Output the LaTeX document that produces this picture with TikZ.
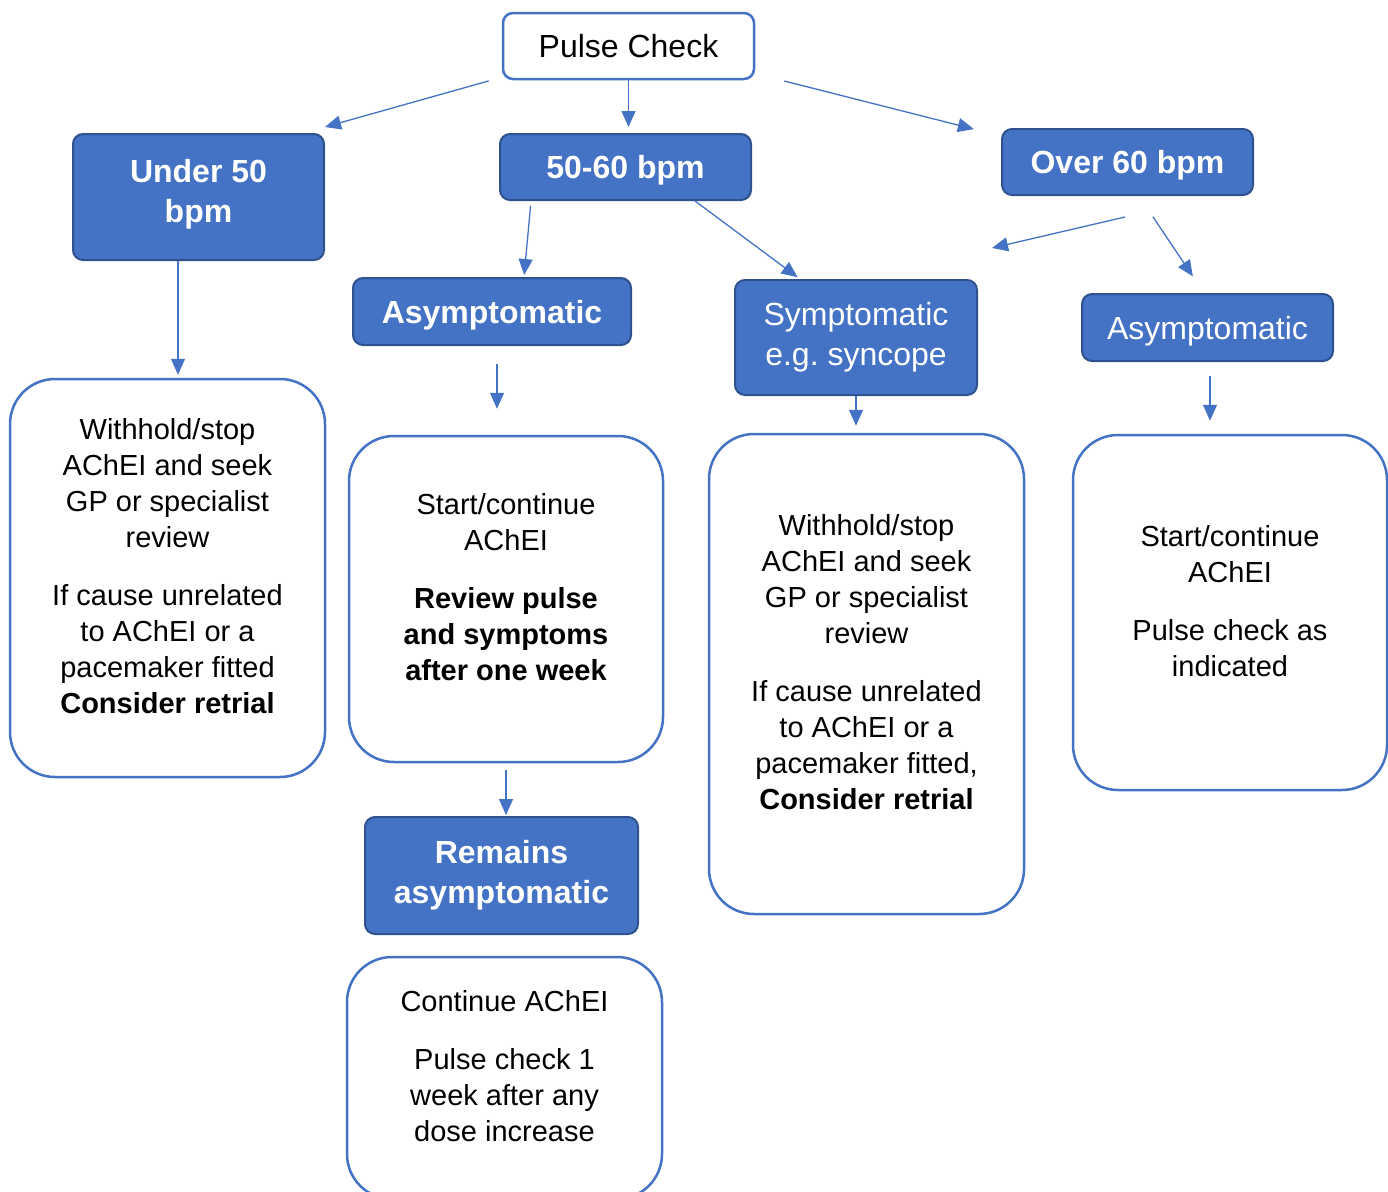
\documentclass[tikz,border=0pt]{standalone}
\usepackage{fontspec}
\setmainfont{Liberation Sans}
\frenchspacing
\usetikzlibrary{positioning,arrows.meta}
\definecolor{accblue}{HTML}{4472C4}
\definecolor{accdark}{HTML}{2F528F}
\newcommand{\lowpad}[1][-12pt]{\\[#1]\mbox{}}

\begin{document}
\begin{tikzpicture}[x=1pt,y=-1pt,>={Triangle[length=16pt,width=14pt]},line join=bevel,
  topbox/.style={draw=accblue,line width=2.5pt,fill=white,rounded corners=10pt,align=center,font=\fontsize{32}{40}\selectfont},
  hdrbox/.style={draw=accdark,line width=2pt,fill=accblue,text=white,rounded corners=10pt,align=center,font=\fontsize{32}{40}\selectfont},
  notebox/.style={draw=accblue,line width=2.5pt,fill=white,rounded corners=45pt,align=center,font=\fontsize{29}{36}\selectfont},
  flow/.style={draw=accblue,line width=1.3pt,->},]
%%
\useasboundingbox (0,0) rectangle (1388,1191);
\node (pulse) at (628.5,46) [topbox,minimum width=251,minimum height=66] {Pulse Check};
  \node (under50) at (198.5,197) [hdrbox,minimum width=251,minimum height=126] {\textbf{Under 50}\\\textbf{bpm}\lowpad[-27pt]};
  \node (b5060) at (625.5,167) [hdrbox,minimum width=251,minimum height=66,text depth=0pt] {\textbf{50-60 bpm}};
  \node (over60) at (1127.5,162) [hdrbox,minimum width=251,minimum height=66,text depth=0pt] {\textbf{Over 60 bpm}};
  \node (lnote) at (167.5,578) [notebox,minimum width=315,minimum height=398] {Withhold/stop\\AChEI and seek\\GP or specialist\\review\\[22pt]If cause unrelated\\to AChEI or a\\pacemaker fitted\\\textbf{Consider retrial}\lowpad};
  \node (asym1) at (492,311.5) [hdrbox,minimum width=278,minimum height=67,text depth=0pt] {\textbf{Asymptomatic}};
  \node (midnote) at (506,599) [notebox,minimum width=314,minimum height=326] {Start/continue\\AChEI\\[22pt]\textbf{Review pulse}\\\textbf{and symptoms}\\\textbf{after one week}\lowpad};
  \node (remains) at (501.5,875.5) [hdrbox,minimum width=273,minimum height=117] {\textbf{Remains}\\\textbf{asymptomatic}};
  \node (endnote) at (504.5,1078) [notebox,minimum width=315,minimum height=242] {Continue AChEI\\[22pt]Pulse check 1\\week after any\\dose increase\lowpad};
  \node (symp) at (856,337.5) [hdrbox,minimum width=242,minimum height=115] {Symptomatic\\e.g. syncope};
  \node (snote) at (866.5,674) [notebox,minimum width=315,minimum height=480] {Withhold/stop\\AChEI and seek\\GP or specialist\\review\\[22pt]If cause unrelated\\to AChEI or a\\pacemaker fitted,\\\textbf{Consider retrial}\lowpad};
  \node (asym2) at (1207.5,327.5) [hdrbox,minimum width=251,minimum height=67,text depth=0pt] {Asymptomatic};
  \node (rnote) at (1230,612.5) [notebox,minimum width=314,minimum height=355] {Start/continue\\AChEI\\[22pt]Pulse check as\\indicated\lowpad};
  \coordinate (o60from) at ([xshift=-2.5pt,yshift=-21pt]over60.south);
  \coordinate (o60to) at (992,248);
  \draw [flow,shorten <=13.5pt] ([yshift=3pt]pulse.south west) -- ([yshift=6pt]under50.north east);
  \draw [flow,shorten >=6pt] (pulse.south) -- (pulse.south |- b5060.north);
  \draw [flow,shorten <=30pt,shorten >=28pt] ([yshift=6.6pt]pulse.south east) -- ([yshift=-8pt]over60.north west);
  \draw [flow,shorten >=3pt] ([xshift=-20.5pt]under50.south) -- ([xshift=-20.5pt]under50.south |- lnote.north);
  \draw [flow,shorten <=5pt,shorten >=2pt] ([xshift=-94.5pt]b5060.south) -- ([xshift=32pt]asym1.north);
  \draw [flow,shorten >=3pt] ([xshift=69.5pt]b5060.south) -- ([xshift=-56pt]symp.north);
  \draw [flow,shorten <=18pt,shorten >=26pt] ([xshift=5pt]asym1.south) -- ([xshift=5pt]asym1.south |- midnote.north);
  \draw [flow,shorten <=7pt,shorten >=1pt] (midnote.south) -- (midnote.south |- remains.north);
  \draw [flow,shorten >=7pt] (symp.south) -- (symp.south |- snote.north);
  \draw [flow] (o60from) -- (o60to);
  \draw [flow,shorten <=25pt,shorten >=20pt] ([xshift=11.5pt]over60.south) -- ([xshift=-3.5pt]asym2.north);
  \draw [flow,shorten <=14pt,shorten >=13pt] ([xshift=2.5pt]asym2.south) -- ([xshift=2.5pt]asym2.south |- rnote.north);
%
\end{tikzpicture}
\end{document}
